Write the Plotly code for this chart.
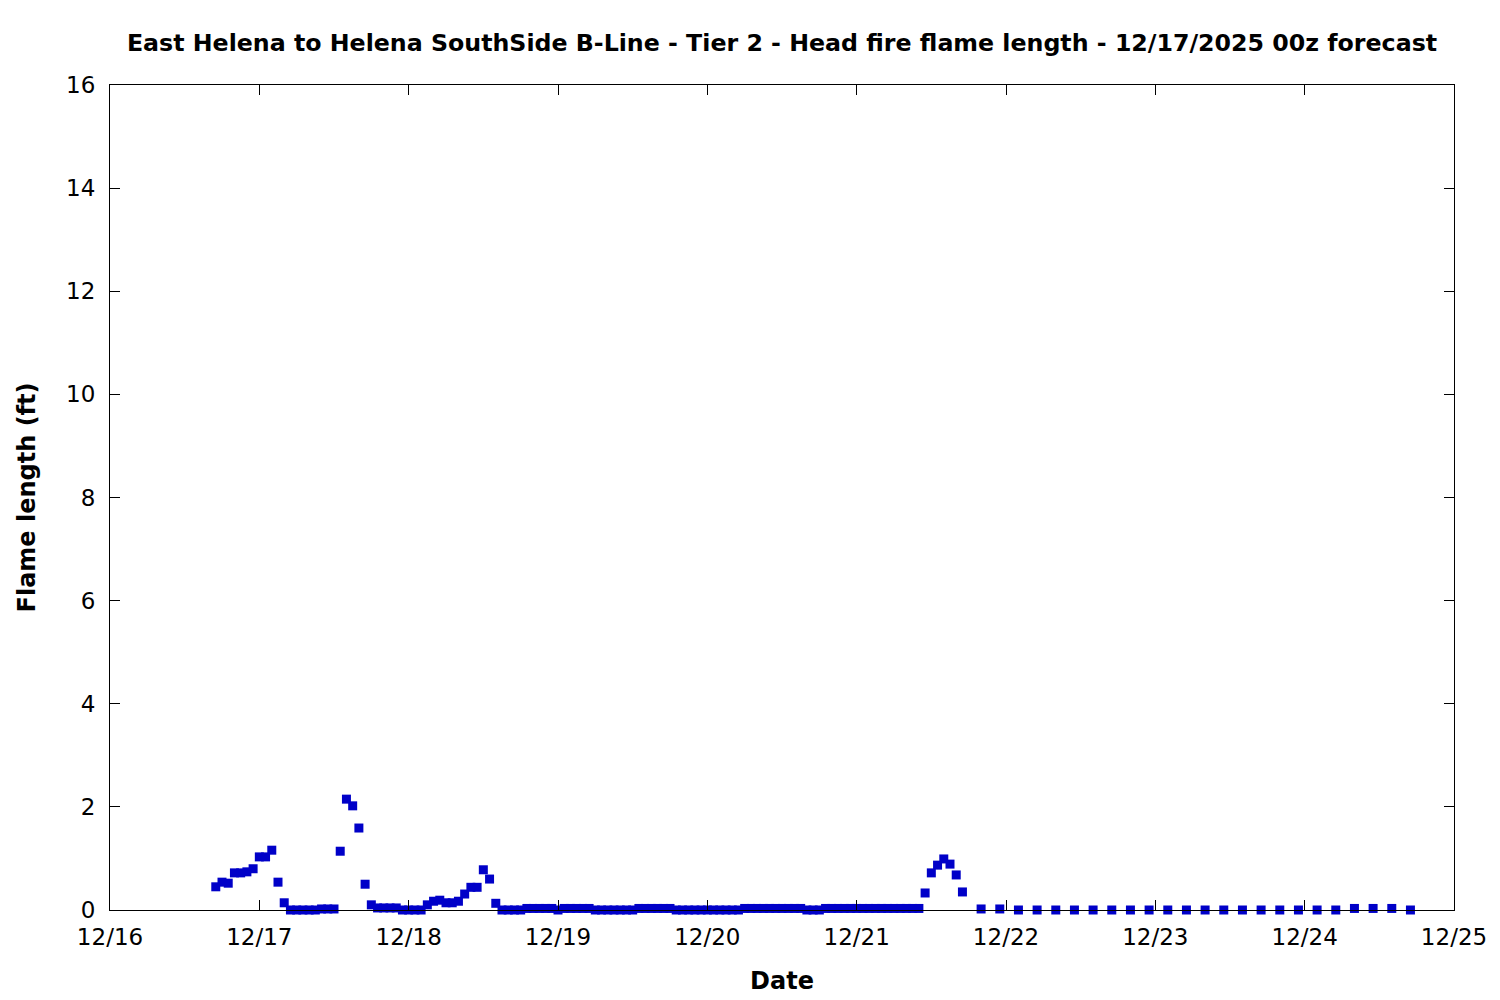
import pandas as pd
import plotly.graph_objects as go

# Hourly forecast: 12/16 17z through 12/21 17z
hourly_start = "2025-12-16 17:00"
hourly_vals = [
    0.45, 0.54, 0.52, 0.72, 0.72, 0.74, 0.80,             # 17z-23z 12/16
    1.03, 1.03, 1.16, 0.54, 0.14, 0.0, 0.0, 0.0, 0.0, 0.0,  # 00z-09z 12/17
    0.02, 0.02, 0.02, 1.14, 2.15, 2.02, 1.59, 0.50, 0.10,  # 10z-18z
    0.04, 0.04, 0.04, 0.04, 0.0, 0.0, 0.0, 0.0,            # 19z-02z
    0.10, 0.17, 0.19, 0.14, 0.14, 0.17, 0.31, 0.44, 0.44,  # 03z-11z 12/18
    0.78, 0.60, 0.13, 0.0, 0.0, 0.0, 0.0,                  # 12z-18z
    0.03, 0.03, 0.03, 0.03, 0.03, 0.0,                     # 19z-00z
    0.03, 0.03, 0.03, 0.03, 0.03,                          # 01z-05z 12/19
    0.0, 0.0, 0.0, 0.0, 0.0, 0.0, 0.0,                     # 06z-12z
    0.03, 0.03, 0.03, 0.03, 0.03, 0.03,                    # 13z-18z
    0.0, 0.0, 0.0, 0.0, 0.0, 0.0, 0.0, 0.0, 0.0, 0.0, 0.0,  # 19z-05z
    0.03, 0.03, 0.03, 0.03, 0.03, 0.03, 0.03, 0.03, 0.03, 0.03,  # 06z-15z 12/20
    0.0, 0.0, 0.0,                                          # 16z-18z
    0.03, 0.03, 0.03, 0.03, 0.03, 0.03, 0.03, 0.03,        # 19z-02z
    0.03, 0.03, 0.03, 0.03, 0.03, 0.03, 0.03, 0.03,        # 03z-10z 12/21
    0.33, 0.72, 0.87, 0.99, 0.89, 0.68, 0.35,              # 11z-17z
]

# 3-hourly forecast: 12/21 20z onward
three_hourly_start = "2025-12-21 20:00"
three_hourly_vals = [
    0.02, 0.02, 0.0, 0.0, 0.0, 0.0, 0.0, 0.0, 0.0, 0.0, 0.0, 0.0,
    0.0, 0.0, 0.0, 0.0, 0.0, 0.0, 0.0, 0.0, 0.03, 0.03, 0.03, 0.0,
]

x_tick_vals = ["2025-12-16", "2025-12-17", "2025-12-18", "2025-12-19", "2025-12-20",
               "2025-12-21", "2025-12-22", "2025-12-23", "2025-12-24", "2025-12-25"]
x_tick_text = ["12/16", "12/17", "12/18", "12/19", "12/20", "12/21", "12/22", "12/23", "12/24", "12/25"]
y_tick_vals = [0, 2, 4, 6, 8, 10, 12, 14, 16]

title_text = "East Helena to Helena SouthSide B-Line - Tier 2 - Head fire flame length - 12/17/2025 00z forecast"

t_hourly = pd.date_range(hourly_start, periods=len(hourly_vals), freq="h")
t_3h = pd.date_range(three_hourly_start, periods=len(three_hourly_vals), freq="3h")
times = list(t_hourly) + list(t_3h)
values = hourly_vals + three_hourly_vals

font_family = "DejaVu Sans, sans-serif"

fig = go.Figure()
fig.add_trace(go.Scatter(
    x=times, y=values, mode="markers",
    marker=dict(symbol="square", size=9, color="#0000c8", line=dict(width=0)),
    cliponaxis=False, showlegend=False,
))

fig.update_layout(
    width=1500, height=1000,
    paper_bgcolor="white", plot_bgcolor="white",
    margin=dict(l=102, r=54, t=77, b=98),
    font=dict(family=font_family, size=23, color="black"),
    title=dict(text=f"<b>{title_text}</b>", x=0.5, xref="paper",
               y=1 - 35 / 1000, yref="container", yanchor="middle", xanchor="center",
               font=dict(family=font_family, size=23.7, color="black")),
)

fig.update_xaxes(
    type="date", range=["2025-12-16", "2025-12-25"],
    tickvals=x_tick_vals, ticktext=x_tick_text,
    ticks="inside", ticklen=10, tickwidth=1, tickcolor="black",
    showline=True, linecolor="black", linewidth=1, mirror="allticks",
    showgrid=False, zeroline=False,
    tickfont=dict(family=font_family, size=23), ticklabelstandoff=6,
    title=dict(text="<b>Date</b>", standoff=23, font=dict(family=font_family, size=24)),
)
fig.update_yaxes(
    range=[0, 16], tickvals=y_tick_vals,
    ticks="inside", ticklen=10, tickwidth=1, tickcolor="black",
    showline=True, linecolor="black", linewidth=1, mirror="allticks",
    showgrid=False, zeroline=False,
    tickfont=dict(family=font_family, size=23), ticklabelstandoff=9,
    title=dict(text="<b>Flame length (ft)</b>", standoff=23, font=dict(family=font_family, size=24)),
)

fig.write_html("out.html")
